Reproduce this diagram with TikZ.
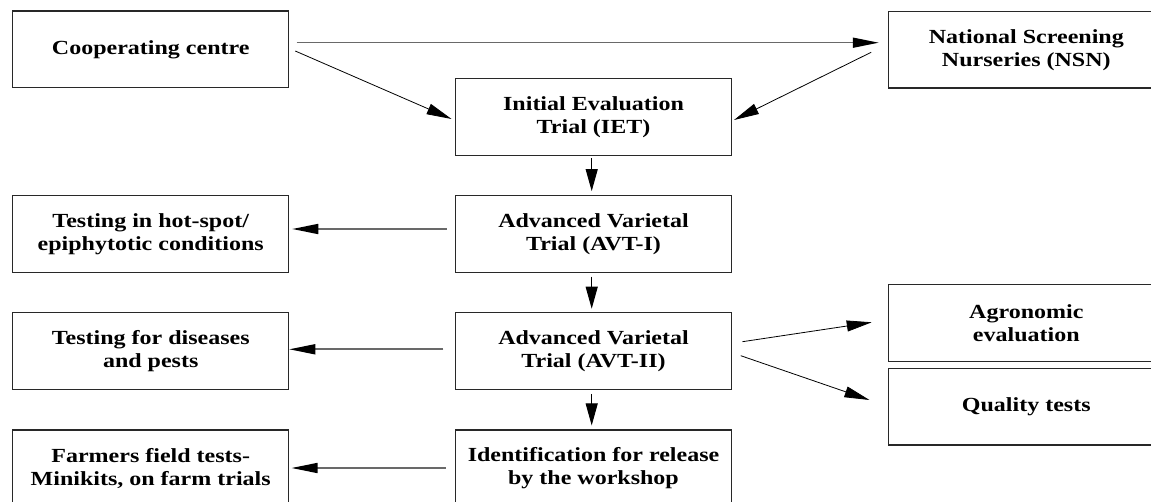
\documentclass[tikz,border=0pt]{standalone}
\usepackage{fontspec}
\setmainfont{Liberation Serif}[FakeStretch=1.2]
\usetikzlibrary{arrows.meta}
\definecolor{lgray}{RGB}{105,105,105}
\definecolor{bordergray}{RGB}{40,40,40}
\tikzset{
  box/.style={draw=bordergray, line width=1.1pt, minimum width=276pt, minimum height=76.6pt,
    inner sep=0pt, align=center, font=\fontsize{20}{23}\selectfont\bfseries},
  hconn/.style={draw=lgray, line width=1.6pt, -{Triangle[length=26pt,width=10pt,color=black]}},
  dconn/.style={draw=black, line width=0.8pt, -{Triangle[length=25pt,width=11pt]}},
  vconn/.style={draw=black, line width=1pt, -{Triangle[length=22pt,width=12pt]}}
}
\begin{document}
\begin{tikzpicture}[x=1pt,y=-1pt]
\useasboundingbox (0,0) rectangle (1151,502);
\clip (0,0) rectangle (1151,502);
\fill[white] (0,0) rectangle (1151,502);

\node[box] (coop) at (150.7,49.3) {Cooperating centre};
\node[box] (nsn) at (1026.3,49.7) {National Screening\\Nurseries (NSN)};
\node[box] (iet) at (593.5,117) {Initial Evaluation\\Trial (IET)};
\node[box] (hot) at (150.7,234) {Testing in hot-spot/\\epiphytotic conditions};
\node[box] (avt1) at (593.5,234) {Advanced Varietal\\Trial (AVT-I)};
\node[box] (dis) at (150.7,351) {Testing for diseases\\and pests};
\node[box] (avt2) at (593.5,351) {Advanced Varietal\\Trial (AVT-II)};
\node[box] (agr) at (1026.3,323) {Agronomic\\evaluation};
\node[box] (qual) at (1026.3,406.7) {Quality tests};
\node[box] (farm) at (150.7,468.3) {Farmers field tests-\\Minikits, on farm trials};
\node[box] (ident) at (593.5,468.3) {Identification for release\\by the workshop};

\draw[hconn] ([shift={(7.3,-6.6)}]coop.east) -- ([shift={(-9,-7)}]nsn.west);
\draw[dconn] ([shift={(6,1.7)}]coop.east) -- ([shift={(-3.4,2)}]iet.west);
\draw[dconn] ([shift={(-16.6,2.6)}]nsn.west) -- ([shift={(2,3)}]iet.east);
\draw[vconn] ([shift={(-1.8,2.4)}]iet.south) -- ([shift={(-1.8,-4)}]avt1.north);
\draw[vconn] ([shift={(-1.8,3.7)}]avt1.south) -- ([shift={(-1.8,-3.4)}]avt2.north);
\draw[vconn] ([shift={(-1.8,4)}]avt2.south) -- ([shift={(-1.8,-4)}]ident.north);
\draw[hconn] ([shift={(-8,-5)}]avt1.west) -- ([shift={(3,-5)}]hot.east);
\draw[hconn] ([shift={(-11.7,-1.7)}]avt2.west) -- ([shift={(0,-1.7)}]dis.east);
\draw[hconn] ([shift={(-9,-0.3)}]ident.west) -- ([shift={(2.3,-0.3)}]farm.east);
\draw[dconn] ([shift={(10.4,-9.3)}]avt2.east) -- ([shift={(-16,-0.7)}]agr.west);
\draw[dconn] ([shift={(8.7,4.7)}]avt2.east) -- ([shift={(-18.3,-6.7)}]qual.west);
\end{tikzpicture}
\end{document}
